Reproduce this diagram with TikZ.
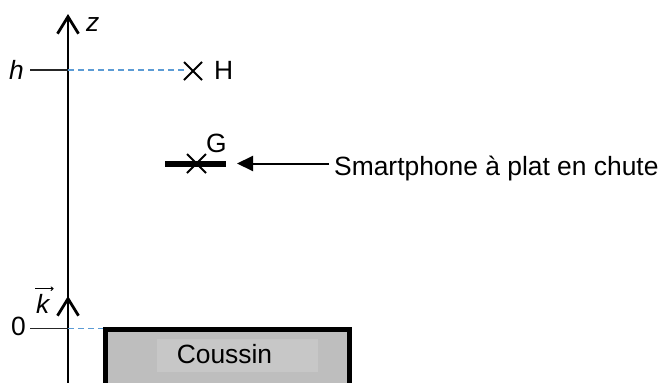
\documentclass[tikz,border=0pt]{standalone}
\usepackage{fontspec}
\setmainfont{Liberation Sans}
\usetikzlibrary{arrows.meta}
\definecolor{dashblue}{HTML}{5B9BD5}
\definecolor{cushout}{HTML}{BEBEBE}
\definecolor{cushin}{HTML}{C7C7C7}
\tikzset{
  lbl/.style={inner sep=0pt,font=\fontsize{26.4}{31}\selectfont},
  ilbl/.style={lbl,font=\fontsize{26.4}{31}\selectfont\itshape},
  axisline/.style={line width=2.8pt,black},
  barb/.style={line width=2.8pt,-{Straight Barb[length=17pt,width=21pt,line width=2.8pt]}},
  tick/.style={line width=1.8pt,black!85},
  guide/.style={line width=1.8pt,dashblue,dash pattern=on 6pt off 4pt},
  crossmark/.style={line width=1.8pt,black},
  ptr/.style={line width=2pt,-{Triangle[length=16pt,width=15pt]}},
}
\begin{document}
\begin{tikzpicture}[x=1pt,y=-1pt]
\useasboundingbox (0,0) rectangle (662,383);
% cushion
\fill[cushout] (105,330) rectangle (350,400);
\fill[cushin] (157,339) rectangle (318,372);
\draw[line width=5pt,black] (105.5,400) -- (105.5,329.5) -- (349.5,329.5) -- (349.5,400);
\node[lbl,anchor=base] (cous) at (224.5,363) {Coussin};
% axis
\coordinate (ab) at (68,390);
\coordinate (at) at (68,14);
\draw[axisline] (ab) -- (68,30);
\draw[barb] (68,30) -- (at);
\coordinate (kb) at (68,320);
\coordinate (kt) at (68,296);
\draw[barb] (kb) -- (kt);
\node[ilbl,anchor=base west] (zl) at (86,31) {z};
% ticks
\coordinate (h0) at (30,70);
\coordinate (h1) at (68,70);
\coordinate (z0) at (30,328.5);
\coordinate (z1) at (68,328.5);
\draw[tick] (h0) -- (h1);
\draw[tick] (z0) -- (z1);
\node[ilbl,anchor=base west] (hl) at (9,79) {h};
\node[lbl,anchor=base west] (zero) at (11,335) {0};
% k vector
\node[ilbl,anchor=base west] (kl) at (36,313) {k};
\draw[line width=1pt,-{To[length=3pt,width=4.5pt]}] ([xshift=-1pt,yshift=5pt]kl.north west) -- ([xshift=4pt,yshift=5pt]kl.north east);
% guides
\draw[guide] (h1) -- (185,70);
\draw[guide] (z1) -- (103,328.5);
% H cross
\draw[crossmark] (184,62) -- (202,80) (184,80) -- (202,62);
\node[lbl,anchor=base west] (Hl) at (214,79) {H};
% phone
\coordinate (p0) at (165,164);
\coordinate (p1) at (226,164);
\draw[line width=6pt] (p0) -- (p1);
\draw[crossmark] (187,154) -- (206,173) (187,173) -- (206,154);
\node[lbl,anchor=base west] (Gl) at (206,152) {G};
% pointer
\node[lbl,anchor=base west] (sp) at (334,175) {Smartphone à plat en chute};
\coordinate (a1) at (329,163.5);
\coordinate (a2) at (237,163.5);
\draw[ptr] (a1) -- (a2);
\end{tikzpicture}
\end{document}
